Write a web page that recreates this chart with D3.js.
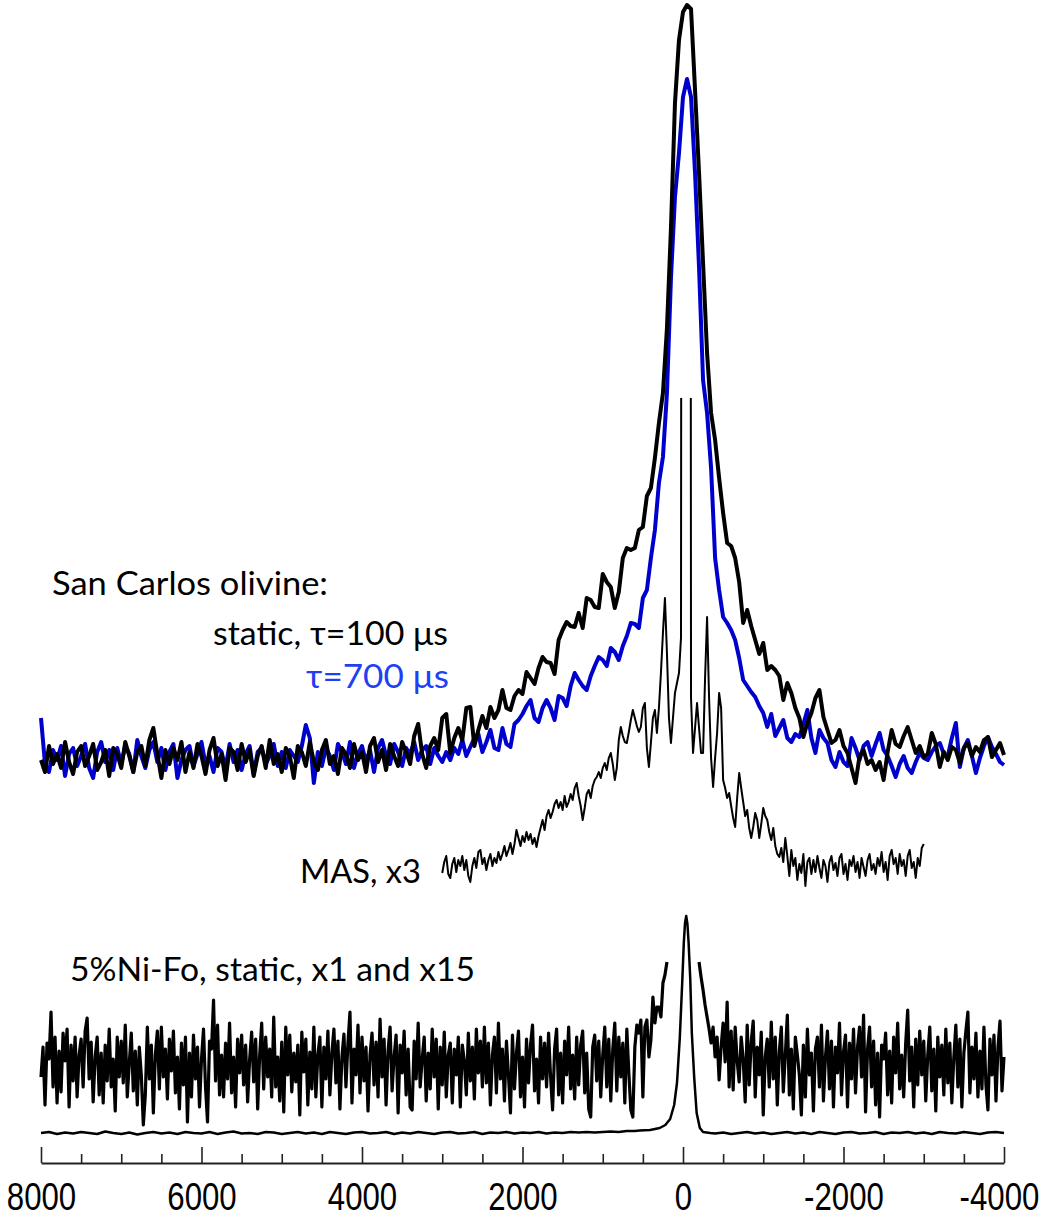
<!DOCTYPE html>
<html>
<head>
<meta charset="utf-8">
<script src="https://cdn.jsdelivr.net/npm/d3@7"></script>
<style>
  body { margin: 0; background: #fff; }
  svg { display: block; }
</style>
</head>
<body>
<div id="chart"></div>
<script>
// frequency axis (Hz), reversed as in NMR plots
const majorTicks = [8000, 6000, 4000, 2000, 0, -2000, -4000];
const minorTicks = [7500, 7000, 6500, 5500, 5000, 4500, 3500, 3000, 2500,
                    1500, 1000, 500, -500, -1000, -1500, -2500, -3000, -3500];

// sampling grids of the spectra
const staticHz = d3.range(8000, -4001, -50);
const fineHz = d3.range(8000, -4001, -25);
const masHz = d3.range(3000, -3001, -25);

// San Carlos olivine, static, tau = 100 us
const staticTau100 = [
  -2, -14, 12, -6, 4, -10, 16, -4, -16, 6,
  12, -8, 2, 14, -12, -4, 8, -18, 10, 4,
  -10, 16, 2, -14, 6, 12, -8, 18, 30, 4,
  -20, 8, -6, 10, -2, 16, -14, 6, -10, 14,
  2, -16, 8, 20, -8, 4, -22, 10, 6, -12,
  14, -4, 8, -18, 2, 12, -10, 18, -6, 4,
  -14, 10, 2, -20, 12, 6, -8, 16, -4, -12,
  8, 18, -6, 2, -16, 10, 4, -10, 14, -2,
  6, -14, 12, 20, -4, 8, -12, 14, 2, -8,
  16, 6, -6, 22, 34, 4, -10, 12, 20, 8,
  40, 44, 5, 20, 30, 18, 50, 51, 12, 28,
  42, 30, 51, 40, 48, 68, 50, 48, 62, 68,
  64, 86, 80, 74, 90, 101, 96, 95, 84, 118,
  128, 136, 132, 131, 145, 130, 160, 158, 151, 150,
  184, 176, 171, 150, 166, 200, 210, 208, 210, 228,
  231, 262, 270, 300, 335, 365, 430, 530, 655, 718,
  746, 753, 749, 668, 585, 495, 405, 345, 318, 280,
  245, 215, 212, 200, 176, 135, 148, 132, 118, 104,
  115, 88, 92, 88, 82, 58, 75, 65, 50, 40,
  21, 35, 45, 60, 68, 41, 28, 15, 18, 28,
  12, 5, -10, -25, 2, 8, -6, -2, -12, -4,
  -22, 6, 28, 14, 11, 22, 31, 18, 5, 12,
  1, 4, 25, 14, -9, 6, -2, 11, 8, -5,
  10, 15, 2, 11, 6, 18, 21, 1, 8, 15, 3
];

// San Carlos olivine, static, tau = 700 us
const staticTau700 = [
  40, -6, -14, 8, -2, 12, -18, 4, 10, -8,
  2, 14, -10, -20, 6, 16, -4, 8, -12, 10,
  -6, 12, 4, -14, 18, 2, -10, 8, 16, -4,
  10, -12, 6, 14, -20, -2, 8, 12, -8, 4,
  16, -6, 2, -14, 10, 6, -10, 14, -4, 8,
  -12, 4, 12, -16, 6, 10, -6, 2, 14, -8,
  6, -10, 8, 2, -4, 12, 33, 20, -25, 6,
  -8, 10, 2, -12, 14, 6, -6, 16, -10, 4,
  12, -4, 8, -14, 10, 18, 2, -6, 14, 6,
  -8, 10, 4, 16, -2, 8, 12, -6, 10, 2,
  -4, 6, -2, 10, 4, 18, 2, 11, 20, 24,
  6, 16, 28, 10, 8, 30, 14, 11, 34, 38,
  44, 52, 58, 40, 36, 50, 58, 50, 38, 62,
  60, 52, 72, 85, 78, 72, 68, 82, 92, 101,
  98, 92, 110, 106, 98, 112, 122, 135, 134, 130,
  160, 168, 200, 228, 275, 301, 365, 480, 561, 605,
  661, 679, 661, 585, 490, 378, 345, 290, 200, 168,
  141, 135, 128, 118, 100, 78, 72, 66, 61, 52,
  45, 31, 44, 22, 30, 38, 20, 16, 24, 21,
  34, 48, 20, 5, 28, 20, 15, -2, -9, 6,
  -4, -8, 20, 10, -2, 12, 16, 2, 14, 25,
  8, 2, -8, -19, -6, 2, -10, -15, -4, 5,
  0, -2, 6, 12, 15, 4, 2, 20, 35, -9,
  10, 18, 2, -15, 0, 12, 21, 11, 4, -4, -7
];

// MAS, x3 (central line runs off the top)
const masX3 = [
  -5, 6, 12, -6, -10, 4, 10, -4, 8, 2,
  12, -2, 8, -8, -14, 2, 10, 0, 16, 18,
  4, 10, -2, 8, 14, 2, 10, 5, 16, 8,
  14, 22, 12, 18, 25, 14, 24, 38, 30, 22,
  32, 26, 36, 28, 34, 24, 30, 21, 32, 40,
  48, 38, 52, 58, 50, 56, 64, 68, 60, 66,
  58, 72, 61, 66, 74, 68, 80, 85, 72, 62,
  48, 60, 74, 78, 70, 82, 88, 91, 96, 90,
  100, 105, 98, 110, 115, 104, 88, 100, 128, 141,
  132, 126, 125, 136, 148, 158, 150, 142, 136, 141,
  160, 165, 120, 101, 125, 150, 158, 135, 160, 195,
  235, 270, 215, 150, 125, 150, 175, 185, 195, 230,
  3000, 3200, 3200, 3000, 170, 115, 140, 165, 140, 115,
  115, 190, 251, 170, 110, 81, 110, 135, 175, 160,
  88, 80, 70, 75, 62, 50, 41, 70, 95, 80,
  66, 52, 58, 40, 30, 41, 55, 48, 30, 44,
  60, 52, 48, 36, 28, 40, 22, 14, 11, 20,
  6, 30, 12, -8, 18, 2, 10, -12, 4, -5,
  14, -18, 6, 10, -6, 8, -4, 12, 0, -10,
  8, 2, -14, 6, 12, -2, 5, -8, 10, 14,
  -6, 4, -12, 8, 2, 12, -4, 6, -10, 10,
  1, -8, 8, 14, -2, 4, -6, 10, 2, 16,
  -4, 6, -12, 12, 18, 4, 10, -6, 14, 2,
  8, -8, 12, 18, 0, 6, -10, 10, 2, 20, 24
];

// 5%Ni-Fo static, x15 (cut around the main line), 25 Hz points
const niFoX15 = [
  -10, 20, -38, 24, 8, 55, -20, 30, -36, 16,
  -25, 34, 6, 38, -40, 22, -14, 30, -30, 12,
  28, -20, 36, 49, -12, 25, -35, 10, 30, -28,
  14, -36, 22, -14, 38, -20, 8, -44, 30, -10,
  26, -16, 42, -30, 4, 34, -24, 16, -38, 20,
  -8, -58, -28, 40, -12, 22, -46, 12, 36, -22,
  40, -10, 18, -32, 28, -4, 36, -26, 10, -42,
  24, -18, 30, -55, 14, -30, 32, -12, 20, -40,
  8, 38, -20, -55, 26, 18, 67, -14, 42, -28,
  12, -30, 24, -12, 44, -26, 10, -40, 28, -6,
  32, -18, 22, -35, 8, 35, -15, 28, -42, 12,
  44, -22, 30, -10, 18, -30, 50, -20, 10, -34,
  25, -45, 40, -8, 32, -25, 14, -15, 22, -48,
  35, -5, 28, -38, 15, -22, 40, -30, 12, 30,
  -40, 20, -12, 36, -28, 14, 38, -16, 26, -42,
  10, 33, -20, 24, 55, -36, 18, -8, 42, -26,
  30, -14, 20, -44, 12, 34, -18, 25, -30, 48,
  -10, 28, -38, 16, 40, -24, 10, 32, -46, 22,
  -6, 36, -28, 18, -40, -43, 26, -12, 44, -20,
  8, 30, -34, 14, -22, 38, -10, 28, -42, 20,
  -18, 35, -30, 12, 24, -36, 18, -8, 30, -40,
  22, 6, -28, 34, -14, 20, -32, 38, -6, 26,
  -20, 40, -16, 24, -38, 12, 30, -26, 44, -12,
  18, -34, 26, -8, -46, 32, -22, 14, 36, -30,
  10, -40, 28, -16, 22, 42, -24, 8, -36, 30,
  -12, 24, -20, 34, -10, -43, 18, 38, -28, 14,
  -36, 26, -8, 40, -22, 12, -32, 30, -18, 22,
  36, -26, 14, -42, -50, 20, 32, -14, 26, -30,
  12, 40, -20, 28, -34, 18, 44, -24, 30, -10,
  24, -36, 38, -6, -43, -50, 20, 42, 34, 47,
  -30, 40, 47, 10, 27, 70, 44, 60, 60, 50,
  84, 92, 105, null, null, null, null, null, null, null,
  null, null, null, null, null, null, null, null, 105, 90,
  77, 62, 50, 38, 24, 40, 10, 30, -13, 20,
  44, 5, 65, -20, 36, -23, 40, 6, -15, 30,
  8, -35, 42, -18, 25, 46, -30, 20, -8, 35,
  -48, 10, 28, -20, 45, -12, 30, -38, 15, 40,
  -25, 12, 52, -28, 18, -42, 30, 12, -8, -48,
  22, -30, 38, -8, 14, -44, 18, 30, -20, 42,
  -34, 10, 36, -22, 26, -40, 20, -6, 44, -28,
  15, 32, -40, 24, -12, 38, -26, 20, 40, -10,
  52, -45, 18, 40, -20, 26, -38, 14, -50, 22,
  8, 34, -28, 16, -36, 30, -6, 44, -22, 12,
  -30, 24, 57, -14, 20, -40, 28, -18, 36, -8,
  26, -34, 12, 40, -24, 18, -44, 30, -10, 22,
  -28, 38, -16, 24, -36, 10, 42, -20, 28, -40,
  14, 36, 55, -26, 20, -12, 34, -30, 16, -22,
  40, -18, -43, 28, -8, 32, -34, 20, 46, -24,
  10
];

// 5%Ni-Fo static, x1: [Hz, intensity]
const niFoX1 = [
  [8000, 0], [7900, 1], [7800, -1], [7700, 0.5], [7600, -0.5], [7500, 1], [7400, 0], [7300, -1], [7200, 1.5], [7100, 0],
  [7000, -1], [6900, 0.5], [6800, -1.5], [6700, 0], [6600, 1], [6500, -0.5], [6400, 0.5], [6300, -1], [6200, 1], [6100, 0],
  [6000, -0.5], [5900, 1], [5800, -1], [5700, 0.5], [5600, 1.5], [5500, -0.5], [5400, 0], [5300, -1], [5200, 1], [5100, 0.5],
  [5000, -1], [4900, 0], [4800, 1], [4700, -0.5], [4600, 0.5], [4500, -1], [4400, 1], [4300, 0], [4200, -1], [4100, 0.5],
  [4000, 1], [3900, -0.5], [3800, 0], [3700, 1], [3600, -1], [3500, 0.5], [3400, -0.5], [3300, 1], [3200, 0], [3100, -1],
  [3000, 0.5], [2900, 1], [2800, -0.5], [2700, 0], [2600, 1], [2500, -1], [2400, 0.5], [2300, 0], [2200, 1], [2100, -0.5],
  [2000, 0.5], [1900, 0], [1800, 1], [1700, -0.5], [1600, 0.5], [1500, 0], [1400, 1], [1300, 0.5], [1200, 1], [1100, 0.5],
  [1000, 1], [900, 1.5], [800, 1], [700, 2], [600, 2], [540, 2.5], [410, 3], [290, 5], [220, 8], [160, 14],
  [110, 28], [75, 50], [40, 95], [10, 150], [-10, 190], [-25, 210], [-40, 217], [-55, 209], [-70, 190], [-90, 155],
  [-110, 100], [-140, 55], [-170, 20], [-210, 5], [-250, 1], [-340, 0], [-400, -0.5], [-500, 0.5], [-600, -1], [-700, 0],
  [-800, 1], [-900, -0.5], [-1000, 0.5], [-1100, -1], [-1200, 0], [-1300, 1], [-1400, -0.5], [-1500, 0.5], [-1600, -1], [-1700, 1],
  [-1800, 0], [-1900, -1], [-2000, 0.5], [-2100, 1], [-2200, -0.5], [-2300, 0], [-2400, 1], [-2500, -1], [-2600, 0.5], [-2700, 0],
  [-2800, 1], [-2900, -0.5], [-3000, 0.5], [-3100, -1], [-3200, 1], [-3300, 0], [-3400, -0.5], [-3500, 1], [-3600, 0], [-3700, -1],
  [-3800, 0.5], [-3900, 1], [-4000, 0]
];

// stacking: baseline of each trace and drawing style
const traces = [
  {hz: staticHz, values: staticTau700, base: 392, color: '#0000cc', width: 4},
  {hz: staticHz, values: staticTau100, base: 392, color: '#000', width: 4},
  {hz: masHz, values: masX3, base: 282, color: '#000', width: 2, clip: true},
  {hz: fineHz, values: niFoX15, base: 83, color: '#000', width: 3.2},
  {pairs: niFoX1, base: 17, color: '#000', width: 2.5}
];
const masCut = 470;   // MAS intensity above which the trace is cut off

const annotations = [
  {text: 'San Carlos olivine:', x: 52, y: 595, w: 276, color: '#000'},
  {text: 'static, τ=100 μs', x: 213, y: 645, w: 235, color: '#000'},
  {text: 'τ=700 μs', x: 306, y: 688, w: 143, color: '#1f3ff5'},
  {text: 'MAS, x3', x: 300, y: 883, w: 121, color: '#000'},
  {text: '5%Ni-Fo, static, x1 and x15', x: 70, y: 981, w: 405, color: '#000'}
];

const width = 1041, height = 1219;
const axisY = 1163;

const svg = d3.select('#chart').append('svg')
  .attr('width', width)
  .attr('height', height);

const x = d3.scaleLinear().domain([8000, -4000]).range([41, 1004]);
const y = d3.scaleLinear().domain([0, 1150]).range([1150, 0]);

// clip for the MAS trace (its centre line goes off scale)
svg.append('defs').append('clipPath').attr('id', 'masClip')
  .append('rect')
  .attr('x', 0).attr('width', width)
  .attr('y', y(282 + masCut)).attr('height', height);

traces.forEach(t => {
  const pts = t.pairs ? t.pairs : t.values.map((v, i) => [t.hz[i], v]);
  const line = d3.line()
    .defined(d => d[1] != null)
    .x(d => x(d[0]))
    .y(d => y(d[1] + t.base));
  const path = svg.append('path')
    .datum(pts)
    .attr('fill', 'none')
    .attr('stroke', t.color)
    .attr('stroke-width', t.width)
    .attr('stroke-linejoin', 'round')
    .attr('d', line);
  if (t.clip) path.attr('clip-path', 'url(#masClip)');
});

// axis: tall ticks every 2000, short ticks every 500, ticks pointing up
const majorG = svg.append('g')
  .attr('transform', `translate(0,${axisY})`)
  .call(d3.axisBottom(x).tickValues(majorTicks).tickSizeInner(-16).tickSizeOuter(0)
    .tickPadding(19).tickFormat(d => String(d)));
majorG.select('.domain').attr('stroke', '#222').attr('stroke-width', 2);
majorG.selectAll('.tick line').attr('stroke', '#222').attr('stroke-width', 1.6);
// narrow tick labels: squeeze the glyphs horizontally
majorG.selectAll('.tick text')
  .attr('fill', '#000')
  .attr('font-family', "'Liberation Sans', Arial, sans-serif")
  .attr('font-size', 39)
  .attr('transform', d => d === -4000 ? 'translate(-5,0) scale(0.8,1)' : 'scale(0.8,1)');

const minorG = svg.append('g')
  .attr('transform', `translate(0,${axisY})`)
  .call(d3.axisBottom(x).tickValues(minorTicks).tickSizeInner(-9).tickSizeOuter(0).tickFormat(''));
minorG.select('.domain').remove();
minorG.selectAll('.tick line').attr('stroke', '#222').attr('stroke-width', 1.6);

// labels
svg.selectAll('text.label').data(annotations).join('text')
  .attr('class', 'label')
  .attr('x', d => d.x)
  .attr('y', d => d.y)
  .attr('fill', d => d.color)
  .attr('font-family', "Lato, 'Open Sans', sans-serif")
  .attr('font-size', 33)
  .attr('textLength', d => d.w)
  .attr('lengthAdjust', 'spacingAndGlyphs')
  .text(d => d.text);
</script>
</body>
</html>
